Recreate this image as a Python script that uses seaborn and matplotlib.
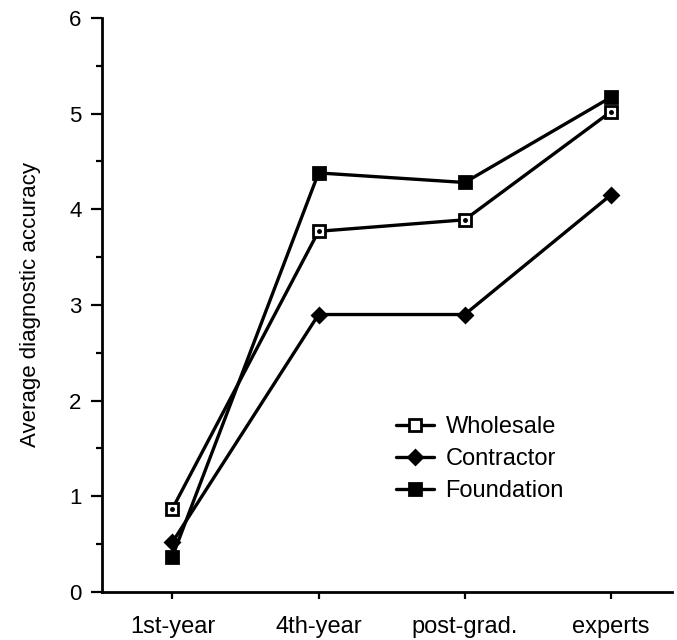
import pandas as pd
import seaborn as sns
import matplotlib.pyplot as plt
from matplotlib.ticker import MultipleLocator

# Values
stages = ["1st-year", "4th-year", "post-grad.", "experts"]
wholesale = [0.87, 3.77, 3.89, 5.02]
contractor = [0.52, 2.90, 2.90, 4.15]
foundation = [0.37, 4.38, 4.28, 5.17]

series = {"Wholesale": wholesale, "Contractor": contractor, "Foundation": foundation}
df = pd.DataFrame(
    [(name, s, v) for name, vals in series.items() for s, v in zip(stages, vals)],
    columns=["group", "stage", "accuracy"],
)

sns.set_style("ticks")
plt.rcParams["font.family"] = ["Liberation Sans", "DejaVu Sans"]
plt.rcParams["text.color"] = "black"
plt.rcParams["xtick.color"] = "black"
plt.rcParams["ytick.color"] = "black"
plt.rcParams["axes.labelcolor"] = "black"
plt.rcParams["axes.edgecolor"] = "black"

fig = plt.figure(figsize=(6.77, 6.40), dpi=100)
ax = fig.add_axes([0.151, 0.075, 0.842, 0.897])

styles = {
    "Wholesale": dict(marker="s", mfc="white", ms=8),
    "Contractor": dict(marker="D", mfc="black", ms=7.5),
    "Foundation": dict(marker="s", mfc="black", ms=8),
}
for name, st in styles.items():
    sub = df[df["group"] == name]
    sns.lineplot(
        data=sub, x="stage", y="accuracy", ax=ax, color="black",
        linewidth=2.4, marker=st["marker"], markersize=st["ms"],
        markerfacecolor=st["mfc"], markeredgecolor="black",
        markeredgewidth=2, label=name,
    )

# small dot in the centre of the open squares
sub = df[df["group"] == "Wholesale"]
ax.plot(sub["stage"], sub["accuracy"], linestyle="none", marker="o",
        ms=2.5, color="black")

ax.set_ylim(0, 6)
ax.set_xlim(-0.48, 3.42)
ax.yaxis.set_major_locator(MultipleLocator(1))
ax.yaxis.set_minor_locator(MultipleLocator(0.5))
ax.tick_params(axis="y", which="major", length=8, width=1.6, labelsize=16, pad=7)
ax.tick_params(axis="y", which="minor", length=4, width=1.6)
ax.tick_params(axis="x", which="major", length=5, width=1.6, labelsize=17, pad=12)

sns.despine(ax=ax)
for sp in ("left", "bottom"):
    ax.spines[sp].set_linewidth(2)

ax.set_xlabel("")
ax.set_ylabel("Average diagnostic accuracy", fontsize=16, labelpad=20)

leg = ax.legend(loc="upper left", bbox_to_anchor=(0.478, 0.343), frameon=False,
                fontsize=17, handlelength=1.6, labelspacing=0.42,
                handletextpad=0.5)

fig.savefig("out.png", dpi=100)
